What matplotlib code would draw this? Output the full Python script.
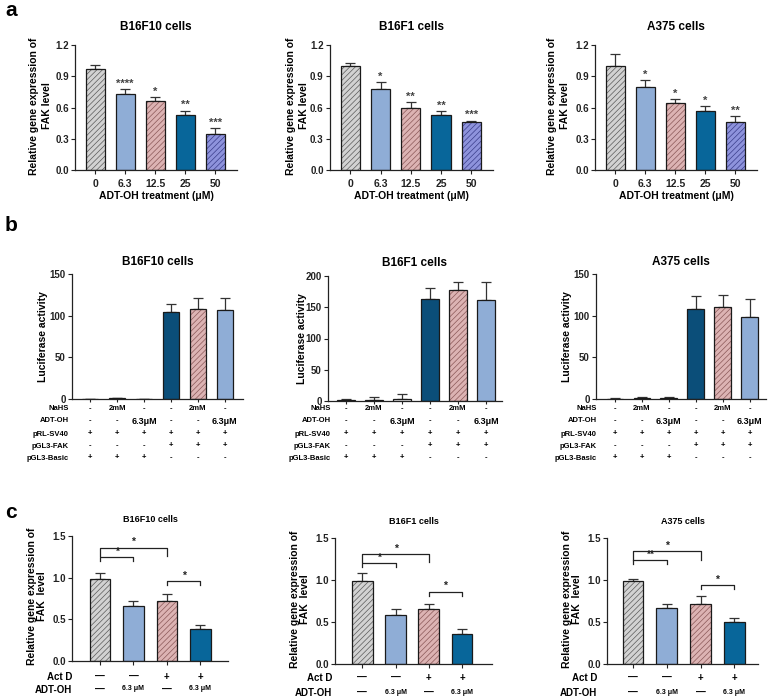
import matplotlib
matplotlib.use("Agg")
import matplotlib.pyplot as plt
import numpy as np

plt.rcParams['font.family'] = ['Liberation Sans', 'DejaVu Sans']
plt.rcParams['font.weight'] = 'bold'
plt.rcParams['hatch.linewidth'] = 0.5

W, H = 768, 699

# ---------------- data ----------------
cells = ['B16F10 cells', 'B16F1 cells', 'A375 cells']

a_doses = ['0', '6.3', '12.5', '25', '50']
a_b16f10 = [0.97, 0.73, 0.665, 0.53, 0.345]
a_b16f10_err = [0.04, 0.045, 0.035, 0.04, 0.055]
a_b16f10_sig = ['', '****', '*', '**', '***']
a_b16f1 = [1.0, 0.775, 0.60, 0.525, 0.46]
a_b16f1_err = [0.025, 0.07, 0.05, 0.04, 0.015]
a_b16f1_sig = ['', '*', '**', '**', '***']
a_a375 = [1.0, 0.795, 0.64, 0.567, 0.46]
a_a375_err = [0.11, 0.065, 0.04, 0.043, 0.057]
a_a375_sig = ['', '*', '*', '*', '**']

b_b16f10 = [0.3, 0.8, 0.3, 105, 108, 107]
b_b16f10_err = [0.2, 0.8, 0.2, 9.5, 13, 14]
b_b16f1 = [1.0, 2.0, 4.0, 163, 177, 162]
b_b16f1_err = [2.0, 5.0, 8.0, 18, 13, 29]
b_a375 = [0.5, 1.5, 1.5, 108, 111, 99]
b_a375_err = [0.5, 1.0, 1.0, 16, 14, 21]
b_rows = ['NaHS', 'ADT-OH', 'pRL-SV40', 'pGL3-FAK', 'pGL3-Basic']
b_nahs = ['-', '2mM', '-', '-', '2mM', '-']
b_adtoh = ['-', '-', '6.3μM', '-', '-', '6.3μM']
b_prl = ['+', '+', '+', '+', '+', '+']
b_fak = ['-', '-', '-', '+', '+', '+']
b_basic = ['+', '+', '+', '-', '-', '-']

c_b16f10 = [0.99, 0.66, 0.72, 0.385]
c_b16f10_err = [0.07, 0.06, 0.09, 0.045]
c_b16f1 = [0.99, 0.58, 0.655, 0.36]
c_b16f1_err = [0.09, 0.075, 0.065, 0.057]
c_a375 = [0.99, 0.67, 0.72, 0.50]
c_a375_err = [0.02, 0.04, 0.09, 0.05]
c_actd = ['—', '—', '+', '+']
c_adtoh = ['—', '6.3 μM', '—', '6.3 μM']
c_pairs = [(0, 1), (0, 2), (2, 3)]
c_b16f10_sig = ['*', '*', '*']
c_b16f10_brk = [1.25, 1.36, 0.96]
c_b16f1_sig = ['*', '*', '*']
c_b16f1_brk = [1.20, 1.31, 0.86]
c_a375_sig = ['**', '*', '*']
c_a375_brk = [1.24, 1.34, 0.94]

# ---------------- styles ----------------
GREY = ('#d2d2d2', '#5a5a5a')
LBLUE = ('#8fadd6', None)
PINK = ('#dcb3b3', '#8a5858')
DBLUE = ('#08669a', None)
NAVY = ('#0b4e79', None)
PURPLE = ('#8e93dc', '#3a3d8a')
WHITE = ('#ffffff', None)

a_styles = [GREY, LBLUE, PINK, DBLUE, PURPLE]
b_styles = [WHITE, WHITE, WHITE, NAVY, PINK, LBLUE]
c_styles = [GREY, LBLUE, PINK, DBLUE]

fig = plt.figure(figsize=(W / 100, H / 100), dpi=100)


def add_ax(l, t, r, b):
    return fig.add_axes([l / W, 1 - b / H, (r - l) / W, (b - t) / H])


def fx(x):
    return x / W


def fy(y):
    return 1 - y / H


def draw_bars(ax, vals, errs, styles, width):
    x = np.arange(len(vals))
    for i, (v, (fc, hc)) in enumerate(zip(vals, styles)):
        if hc is not None:
            ax.bar(x[i], v, width, color=fc, edgecolor=hc, hatch='//////', linewidth=0, zorder=2)
        else:
            ax.bar(x[i], v, width, color=fc, linewidth=0, zorder=2)
        ax.bar(x[i], v, width, fill=False, edgecolor='#1a1a1a', linewidth=0.9, zorder=3)
    ax.errorbar(x, vals, yerr=[np.zeros(len(vals)), errs], fmt='none', ecolor='#333333',
                elinewidth=0.9, capsize=3.5, capthick=0.9, zorder=1)
    return x


def style_ax(ax):
    for s in ['top', 'right']:
        ax.spines[s].set_visible(False)
    for s in ['left', 'bottom']:
        ax.spines[s].set_linewidth(0.9)
        ax.spines[s].set_color('#222222')
    ax.tick_params(axis='both', direction='out', length=3, width=0.8, colors='#222222')
    ax.tick_params(axis='y', pad=1.5)


# ---------------- panel a ----------------
a_boxes = [(75, 45, 237, 170), (330, 45, 493, 170), (595, 45, 757, 170)]
a_ylab_x = [40.5, 297.5, 558.5]
a_data = [(a_b16f10, a_b16f10_err, a_b16f10_sig),
          (a_b16f1, a_b16f1_err, a_b16f1_sig),
          (a_a375, a_a375_err, a_a375_sig)]
for k, (box, (vals, errs, sig)) in enumerate(zip(a_boxes, a_data)):
    ax = add_ax(*box)
    x = draw_bars(ax, vals, errs, a_styles, 0.63)
    style_ax(ax)
    ax.set_xlim(-0.67, 4.72)
    ax.set_ylim(0, 1.2)
    ax.set_yticks([0, 0.3, 0.6, 0.9, 1.2])
    ax.set_yticklabels(['0.0', '0.3', '0.6', '0.9', '1.2'], fontsize=7, fontweight='bold')
    ax.set_xticks(x)
    ax.set_xticklabels(a_doses, fontsize=7.5, fontweight='bold')
    for i in range(len(vals)):
        if sig[i]:
            ax.text(x[i], vals[i] + errs[i] + 0.005, sig[i], ha='center', va='bottom',
                    fontsize=8, fontweight='bold', color='#444444')
    ax.set_title(cells[k], fontsize=8.5, fontweight='bold', pad=11)
    cx = (box[0] + box[2]) / 2
    fig.text(fx(cx), fy(196), 'ADT-OH treatment (μM)', ha='center', va='center',
             fontsize=7.5, fontweight='bold')
    fig.text(fx(a_ylab_x[k]), fy(106), 'Relative gene expression of\nFAK level', rotation=90,
             ha='center', va='center', fontsize=7.5, fontweight='bold', linespacing=1.4)

fig.text(fx(5), fy(10), 'a', fontsize=15, fontweight='bold', va='center', ha='left')
fig.text(fx(5), fy(225), 'b', fontsize=15, fontweight='bold', va='center', ha='left')
fig.text(fx(5), fy(513), 'c', fontsize=15, fontweight='bold', va='center', ha='left')

# ---------------- panel b ----------------
b_boxes = [(72, 274, 243, 399), (328, 276, 502, 401), (596, 274, 766, 399)]
b_xlim = [(-0.67, 5.67), (-0.64, 5.57), (-0.70, 5.6)]
b_ylim = [150, 200, 150]
b_ylab_x = [43, 302, 567]
b_title_y = [262, 263, 262]
b_rowlab_x = [69, 331, 597]
b_row_y = [409, 421, 434, 446, 458]
b_table = [b_nahs, b_adtoh, b_prl, b_fak, b_basic]
b_data = [(b_b16f10, b_b16f10_err), (b_b16f1, b_b16f1_err), (b_a375, b_a375_err)]
for k, (box, (vals, errs)) in enumerate(zip(b_boxes, b_data)):
    ax = add_ax(*box)
    x = draw_bars(ax, vals, errs, b_styles, 0.62)
    style_ax(ax)
    ax.set_xlim(*b_xlim[k])
    ax.set_ylim(0, b_ylim[k])
    ax.set_yticks(np.arange(0, b_ylim[k] + 1, 50))
    ax.set_yticklabels([str(v) for v in np.arange(0, b_ylim[k] + 1, 50)], fontsize=7,
                       fontweight='bold')
    ax.set_xticks(x)
    ax.set_xticklabels([])
    ax.tick_params(axis='x', length=2)
    cx = (box[0] + box[2]) / 2
    fig.text(fx(cx), fy(b_title_y[k]), cells[k], ha='center', va='center', fontsize=8.5,
             fontweight='bold')
    fig.text(fx(b_ylab_x[k]), fy((box[1] + box[3]) / 2), 'Luciferase activity', rotation=90,
             ha='center', va='center', fontsize=7.5, fontweight='bold')
    # table
    x0, x1 = ax.get_xlim()
    for r, (lab, row) in enumerate(zip(b_rows, b_table)):
        fig.text(fx(b_rowlab_x[k]), fy(b_row_y[r]), lab, ha='right', va='center', fontsize=5.5,
                 fontweight='bold')
        for i, t in enumerate(row):
            px = box[0] + (i - x0) / (x1 - x0) * (box[2] - box[0])
            fs = 6.5 if 'μ' in t else 5.5
            fig.text(fx(px), fy(b_row_y[r]), t, ha='center', va='center', fontsize=fs,
                     fontweight='bold')

# ---------------- panel c ----------------
c_boxes = [(72, 536, 228, 661), (335, 538, 492, 664), (607, 538, 758, 664)]
c_xlim = [(-0.84, 3.83), (-0.82, 3.9), (-0.77, 3.7)]
c_ylab_x = [37, 300, 572]
c_title_y = [520, 522, 522]
c_rowlab_x = [72, 332, 597]
c_row_y = [(677, 690), (678, 693), (678, 693)]
c_data = [(c_b16f10, c_b16f10_err, c_b16f10_sig, c_b16f10_brk),
          (c_b16f1, c_b16f1_err, c_b16f1_sig, c_b16f1_brk),
          (c_a375, c_a375_err, c_a375_sig, c_a375_brk)]
for k, (box, (vals, errs, sig, brk)) in enumerate(zip(c_boxes, c_data)):
    ax = add_ax(*box)
    x = draw_bars(ax, vals, errs, c_styles, 0.62)
    style_ax(ax)
    ax.set_xlim(*c_xlim[k])
    ax.set_ylim(0, 1.5)
    ax.set_yticks([0, 0.5, 1.0, 1.5])
    ax.set_yticklabels(['0.0', '0.5', '1.0', '1.5'], fontsize=7, fontweight='bold')
    ax.set_xticks(x)
    ax.set_xticklabels([])
    for (i, j), s, h in zip(c_pairs, sig, brk):
        d = 0.1 if (i, j) == (0, 2) else 0.05
        ax.plot([x[i], x[i], x[j], x[j]], [h - d, h, h, h - d], color='#222222', lw=0.9,
                clip_on=False)
        ax.text((x[i] + x[j]) / 2, h + 0.005, s, ha='center', va='bottom', fontsize=7.5,
                fontweight='bold', color='#222222')
    cx = (box[0] + box[2]) / 2
    fig.text(fx(cx), fy(c_title_y[k]), cells[k], ha='center', va='center', fontsize=6.5,
             fontweight='bold')
    fig.text(fx(c_ylab_x[k]), fy((box[1] + box[3]) / 2 - 2),
             'Relative gene expression of\nFAK  level', rotation=90, ha='center', va='center',
             fontsize=7.5, fontweight='bold', linespacing=1.0)
    x0, x1 = ax.get_xlim()
    ya, yb = c_row_y[k]
    fig.text(fx(c_rowlab_x[k]), fy(ya), 'Act D', ha='right', va='center', fontsize=7,
             fontweight='bold')
    fig.text(fx(c_rowlab_x[k]), fy(yb), 'ADT-OH', ha='right', va='center', fontsize=7,
             fontweight='bold')
    for i in range(len(vals)):
        px = box[0] + (i - x0) / (x1 - x0) * (box[2] - box[0])
        fig.text(fx(px), fy(ya), c_actd[i], ha='center', va='center', fontsize=7,
                 fontweight='bold')
        t = c_adtoh[i]
        fig.text(fx(px), fy(yb - 1 if 'μ' in t else yb), t, ha='center', va='center',
                 fontsize=5 if 'μ' in t else 7, fontweight='bold')

fig.savefig('out.png', dpi=100)
